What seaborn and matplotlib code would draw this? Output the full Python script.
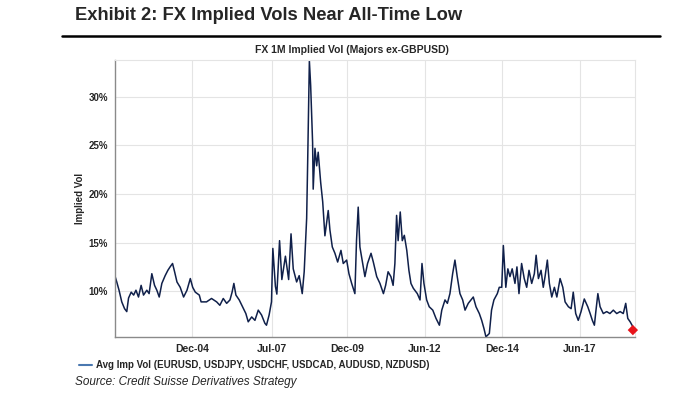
# FX 1M implied vol (majors ex-GBPUSD) - recreation of Exhibit 2
import pandas as pd
import matplotlib
matplotlib.use('Agg')
import matplotlib.pyplot as plt
import seaborn as sns
from matplotlib.lines import Line2D

# ---------- data ----------
dates = [
    '2002-06-10', '2002-06-29', '2002-07-26', '2002-08-27', '2002-09-29', '2002-10-25',
    '2002-11-15', '2002-12-16', '2003-01-14', '2003-02-10', '2003-03-12', '2003-04-12',
    '2003-05-10', '2003-06-18', '2003-07-15', '2003-08-16', '2003-09-17', '2003-10-14',
    '2003-11-11', '2003-12-12', '2004-01-20', '2004-02-21', '2004-03-18', '2004-04-16',
    '2004-05-10', '2004-06-07', '2004-07-15', '2004-08-24', '2004-10-03', '2004-11-11',
    '2004-12-09', '2005-01-09', '2005-02-25', '2005-03-18', '2005-05-21', '2005-07-19',
    '2005-09-17', '2005-10-25', '2005-12-04', '2006-01-13', '2006-02-21', '2006-03-18',
    '2006-04-08', '2006-05-02', '2006-06-10', '2006-07-19', '2006-08-27', '2006-09-24',
    '2006-11-04', '2006-12-12', '2007-01-20', '2007-02-28', '2007-04-08', '2007-04-27',
    '2007-05-28', '2007-06-25', '2007-07-11', '2007-08-10', '2007-08-27', '2007-09-28',
    '2007-10-25', '2007-12-06', '2008-01-13', '2008-02-10', '2008-03-07', '2008-04-16',
    '2008-05-16', '2008-06-21', '2008-07-14', '2008-08-12', '2008-08-24', '2008-09-13',
    '2008-09-28', '2008-10-10', '2008-10-21', '2008-10-28', '2008-11-18', '2008-12-08',
    '2008-12-26', '2009-01-24', '2009-02-17', '2009-03-15', '2009-04-05', '2009-04-23',
    '2009-05-13', '2009-06-10', '2009-07-11', '2009-08-12', '2009-09-20', '2009-10-17',
    '2009-11-26', '2009-12-23', '2010-01-24', '2010-03-03', '2010-03-22', '2010-04-11',
    '2010-05-01', '2010-05-27', '2010-06-29', '2010-07-30', '2010-09-09', '2010-10-06',
    '2010-11-15', '2010-12-23', '2011-02-02', '2011-02-28', '2011-03-29', '2011-05-01',
    '2011-05-27', '2011-06-17', '2011-07-07', '2011-07-25', '2011-08-19', '2011-09-12',
    '2011-10-06', '2011-11-04', '2011-11-29', '2011-12-23', '2012-01-20', '2012-03-07',
    '2012-04-08', '2012-05-01', '2012-05-24', '2012-06-25', '2012-07-25', '2012-09-05',
    '2012-10-13', '2012-11-22', '2012-12-20', '2013-01-27', '2013-02-24', '2013-03-26',
    '2013-04-27', '2013-05-24', '2013-06-20', '2013-07-22', '2013-08-23', '2013-09-20',
    '2013-10-28', '2013-11-29', '2013-12-26', '2014-01-27', '2014-03-07', '2014-04-04',
    '2014-05-01', '2014-05-24', '2014-07-03', '2014-07-29', '2014-08-26', '2014-10-05',
    '2014-10-28', '2014-11-26', '2014-12-15', '2015-01-13', '2015-02-06', '2015-03-03',
    '2015-03-29', '2015-05-01', '2015-05-24', '2015-06-17', '2015-07-18', '2015-08-18',
    '2015-09-16', '2015-10-13', '2015-11-14', '2015-12-15', '2016-01-05', '2016-02-01',
    '2016-03-03', '2016-03-29', '2016-04-19', '2016-05-16', '2016-06-09', '2016-07-07',
    '2016-08-07', '2016-09-05', '2016-10-13', '2016-11-14', '2016-12-11', '2017-01-19',
    '2017-02-20', '2017-03-17', '2017-04-15', '2017-05-15', '2017-06-17', '2017-07-25',
    '2017-09-04', '2017-10-02', '2017-10-28', '2017-11-21', '2017-12-08', '2018-01-01',
    '2018-01-27', '2018-03-06', '2018-04-15', '2018-05-23', '2018-07-02', '2018-08-11',
    '2018-09-20', '2018-10-27', '2018-11-25', '2018-12-19', '2019-01-16', '2019-02-17',
]
vols = [
    11.5, 10.95, 10.1, 8.9, 8.2, 7.9,
    9.3, 9.9, 9.6, 10.1, 9.4, 10.6,
    9.6, 10.1, 9.75, 11.8, 10.6, 10.1,
    9.4, 10.8, 11.6, 12.15, 12.5, 12.85,
    12.0, 10.95, 10.4, 9.4, 10.1, 11.3,
    10.4, 9.9, 9.6, 8.9, 8.9, 9.25,
    8.9, 8.55, 9.25, 8.75, 9.1, 9.9,
    10.8, 9.6, 9.1, 8.4, 7.7, 6.85,
    7.35, 7.0, 8.05, 7.55, 6.7, 6.5,
    7.55, 8.9, 14.4, 10.5, 9.7, 15.2,
    11.2, 13.6, 11.2, 15.9, 12.3, 10.95,
    11.6, 9.75, 12.0, 17.5, 23.3, 33.7,
    31.2, 28.1, 25.3, 20.5, 24.7, 22.9,
    24.3, 21.2, 19.2, 15.7, 17.1, 18.3,
    16.3, 14.55, 13.9, 13.0, 14.2, 12.85,
    13.2, 11.8, 10.8, 9.75, 15.2, 18.65,
    14.55, 13.2, 11.5, 12.85, 13.9, 13.0,
    11.5, 10.8, 9.75, 10.6, 12.0, 11.5,
    10.6, 12.85, 17.8, 15.2, 18.15, 15.2,
    15.75, 14.2, 12.15, 10.8, 10.3, 9.75,
    9.1, 12.85, 10.8, 9.1, 8.4, 8.05,
    7.2, 6.5, 8.05, 9.1, 8.75, 9.75,
    11.8, 13.2, 11.5, 9.75, 9.1, 8.05,
    8.75, 9.1, 9.4, 8.4, 7.7, 7.0,
    6.15, 5.3, 5.65, 8.05, 9.1, 9.75,
    10.4, 10.4, 14.7, 10.4, 12.3, 11.5,
    12.3, 10.8, 12.5, 9.75, 12.85, 11.3,
    10.4, 12.15, 10.8, 11.8, 13.7, 11.3,
    12.15, 10.4, 11.5, 13.2, 10.8, 9.4,
    10.4, 9.4, 11.3, 10.4, 8.9, 8.4,
    8.2, 9.9, 7.7, 7.0, 7.9, 9.2,
    8.4, 7.7, 7.0, 6.5, 7.9, 9.75,
    8.4, 7.7, 7.9, 7.7, 8.05, 7.7,
    7.9, 7.7, 8.75, 7.2, 6.85, 6.35,
]
last_date = ['2019-02-17']
last_vol = [6.0]

tick_dates = ['2004-12-01', '2007-07-01', '2009-12-01', '2012-06-01', '2014-12-01', '2017-06-01']
tick_labels = ['Dec-04', 'Jul-07', 'Dec-09', 'Jun-12', 'Dec-14', 'Jun-17']
y_ticks = [10, 15, 20, 25, 30]

df = pd.DataFrame({'date': pd.to_datetime(dates), 'vol': vols})
last = pd.DataFrame({'date': pd.to_datetime(last_date), 'vol': last_vol})

# ---------- style ----------
sns.set_style('whitegrid', {'grid.color': '#e4e4e4', 'axes.edgecolor': '#8a8a8a'})
plt.rcParams['font.family'] = ['Liberation Sans', 'DejaVu Sans']

fig = plt.figure(figsize=(7, 3.94), dpi=100)
ax = fig.add_axes([0.164, 0.145, 0.743, 0.703])

sns.lineplot(data=df, x='date', y='vol', ax=ax, color='#10204a', linewidth=1.1)
sns.scatterplot(data=last, x='date', y='vol', ax=ax, color='#e8141b', marker='D',
                s=28, edgecolor='none', zorder=5, clip_on=False)

ax.set_xlim(pd.Timestamp('2002-06-06'), pd.Timestamp('2019-03-13'))
ax.set_ylim(5.3, 33.8)
ax.set_xticks(pd.to_datetime(tick_dates))
ax.set_xticklabels(tick_labels, fontsize=7.5, fontweight='bold')
ax.set_yticks(y_ticks)
ax.set_yticklabels([f'{v}%' for v in y_ticks], fontsize=7, fontweight='bold')
ax.tick_params(axis='both', length=3, width=0.8, color='#8a8a8a', pad=2)
ax.set_xlabel('')
ax.set_ylabel('')
for side in ['top', 'right']:
    ax.spines[side].set_color('#e4e4e4')
for side in ['left', 'bottom']:
    ax.spines[side].set_linewidth(1.0)

# ---------- texts ----------
fig.text(75 / 700, 1 - 15 / 394, 'Exhibit 2: FX Implied Vols Near All-Time Low',
         fontsize=13.2, fontweight='bold', ha='left', va='center')
fig.add_artist(Line2D([62 / 700, 660 / 700], [1 - 36 / 394, 1 - 36 / 394],
                      color='black', linewidth=1.8))
fig.text(352 / 700, 1 - 50 / 394, 'FX 1M Implied Vol (Majors ex-GBPUSD)',
         fontsize=7.5, fontweight='bold', ha='center', va='center')
fig.text(80 / 700, 1 - 198 / 394, 'Implied Vol', fontsize=7, fontweight='bold',
         rotation=90, ha='center', va='center')

legend_handle = Line2D([], [], color='#4a78b0', linewidth=1.5)
fig.legend(handles=[legend_handle],
           labels=['Avg Imp Vol (EURUSD, USDJPY, USDCHF, USDCAD, AUDUSD, NZDUSD)'],
           loc='center left', bbox_to_anchor=(70 / 700, 1 - 365 / 394), frameon=False,
           handlelength=1.4, handletextpad=0.4, prop={'weight': 'bold', 'size': 7})

fig.text(75 / 700, 1 - 382 / 394, 'Source: Credit Suisse Derivatives Strategy',
         fontsize=8.5, style='italic', ha='left', va='center')

fig.savefig('out.png', dpi=100)
